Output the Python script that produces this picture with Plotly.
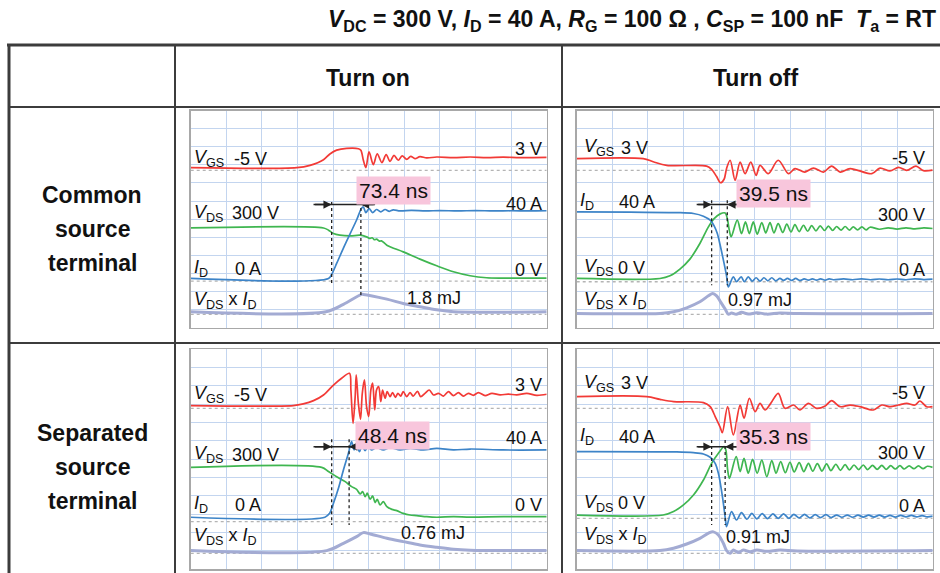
import plotly.graph_objects as go

W, H = 940, 573

# ------------------------------------------------------------------
# DATA  (time in scope divisions 0..10, signal level in divisions 0..12)
# ------------------------------------------------------------------
TITLE = ("<b><i>V</i><sub>DC</sub> = 300 V, <i>I</i><sub>D</sub> = 40 A, "
         "<i>R</i><sub>G</sub> = 100 Ω , <i>C</i><sub>SP</sub> = 100 nF\u00a0\u00a0"
         "<i>T</i><sub>a</sub> = RT</b>")
COL_HEADERS = ["Turn on", "Turn off"]
ROW_HEADERS = [["Common", "source", "terminal"], ["Separated", "source", "terminal"]]

# --- Common source terminal, turn on ---
A_VGS = [(0, 8.84), (2.98, 8.84), (3.35, 8.97), (3.73, 9.28), (3.91, 9.60), (4.10, 9.81),
         (4.38, 9.91), (4.71, 9.89), (4.78, 9.80), (4.85, 9.25), (4.92, 8.84), (5.01, 9.71),
         (5.13, 9.01), (5.24, 9.61), (5.37, 9.12), (5.49, 9.56), (5.60, 9.19), (5.71, 9.52),
         (5.83, 9.25), (5.94, 9.49), (6.07, 9.30), (6.18, 9.47), (6.30, 9.34), (6.44, 9.45),
         (6.63, 9.38), (6.91, 9.43), (7.38, 9.40), (7.85, 9.43), (8.31, 9.40), (8.78, 9.42),
         (9.25, 9.40), (10, 9.41)]
A_ID = [(0, 2.72), (3.87, 2.72), (3.96, 2.95), (4.10, 3.55), (4.29, 4.40), (4.48, 5.20),
        (4.66, 5.95), (4.80, 6.60), (4.85, 6.67), (4.92, 6.36), (5.01, 6.58), (5.11, 6.36),
        (5.22, 6.53), (5.34, 6.40), (5.46, 6.53), (5.58, 6.43), (5.69, 6.51), (5.88, 6.45),
        (6.2, 6.48), (6.6, 6.45), (7.0, 6.47), (7.5, 6.45), (8.0, 6.47), (8.5, 6.45),
        (9.0, 6.46), (9.5, 6.45), (10, 6.46)]
A_VDS = [(0, 5.51), (3.73, 5.51), (3.87, 5.39), (4.01, 5.20), (4.19, 5.11), (4.48, 5.07),
         (4.76, 5.11), (4.94, 5.02), (5.04, 4.93), (5.10, 4.97), (5.16, 4.86), (5.22, 4.89),
         (5.30, 4.78), (5.36, 4.80), (5.51, 4.56), (5.97, 4.19), (6.44, 3.79), (6.91, 3.42),
         (7.38, 3.09), (7.85, 2.87), (8.31, 2.76), (8.78, 2.74), (10, 2.74)]
A_PW = [(0, 0.88), (3.80, 0.88), (4.29, 1.29), (4.80, 1.84), (4.85, 1.84), (5.51, 1.58),
        (5.97, 1.34), (6.44, 1.16), (6.91, 0.99), (7.38, 0.88), (10, 0.88)]
A_REFS = [8.69, 2.57, 0.74]
A_MARKS = [(3.96, 6.95, 2.35), (4.78, 6.95, 1.80)]
A_ARROW = (6.80, 3.45, 5.18)

# --- Common source terminal, turn off ---
B_VGS = [(0, 9.34), (1.87, 9.34), (2.15, 9.17), (2.53, 8.97), (3.65, 8.93), (3.79, 8.75),
         (3.93, 8.35), (4.04, 8.01), (4.14, 8.20), (4.21, 8.80), (4.31, 9.25), (4.45, 8.14),
         (4.59, 9.15), (4.73, 8.51), (4.89, 9.15), (5.04, 8.42), (5.15, 8.97), (5.38, 8.51),
         (5.66, 9.25), (5.95, 8.51), (6.13, 8.79), (6.41, 8.60), (6.65, 8.82), (6.93, 8.60),
         (7.16, 8.93), (7.40, 8.60), (7.68, 8.79), (8.29, 8.51), (8.52, 8.82), (8.80, 8.66),
         (9.04, 8.86), (9.27, 8.69), (9.53, 8.93), (9.74, 8.68), (10, 8.71)]
B_ID = [(0, 6.40), (1.5, 6.38), (2.81, 6.36), (3.28, 6.31), (3.56, 6.16), (3.75, 5.94),
        (3.86, 5.63), (3.95, 5.20), (4.04, 4.47), (4.14, 3.55), (4.21, 2.85), (4.26, 2.26),
        (4.40, 2.81), (4.49, 2.54), (4.62, 2.81), (4.71, 2.54), (4.82, 2.81), (4.93, 2.57),
        (5.04, 2.76), (5.15, 2.57), (5.26, 2.76), (5.37, 2.59), (5.48, 2.76), (5.59, 2.59),
        (5.71, 2.72), (5.81, 2.61), (5.92, 2.72), (6.04, 2.61), (6.15, 2.72), (6.27, 2.61),
        (6.39, 2.70), (6.51, 2.63), (6.62, 2.70), (6.74, 2.63), (6.85, 2.70), (6.98, 2.63),
        (7.09, 2.70), (7.21, 2.65), (7.5, 2.70), (7.75, 2.65), (8.0, 2.70), (8.25, 2.65),
        (8.5, 2.69), (8.75, 2.65), (9.0, 2.69), (9.25, 2.65), (9.5, 2.70), (9.75, 2.66),
        (10, 2.68)]
B_VDS = [(0, 2.72), (2.34, 2.72), (2.62, 2.87), (2.90, 3.24), (3.18, 3.79), (3.46, 4.65),
         (3.70, 5.57), (3.86, 6.03), (4.03, 6.29), (4.17, 6.34), (4.23, 6.03), (4.29, 5.35),
         (4.34, 5.02), (4.51, 5.94), (4.63, 5.20), (4.74, 5.85), (4.85, 5.20), (4.96, 5.85),
         (5.07, 5.17), (5.20, 5.81), (5.31, 5.24), (5.43, 5.81), (5.54, 5.24), (5.66, 5.75),
         (5.79, 5.26), (5.90, 5.72), (6.02, 5.29), (6.13, 5.70), (6.25, 5.31), (6.37, 5.66),
         (6.49, 5.33), (6.60, 5.64), (6.72, 5.35), (6.84, 5.63), (6.96, 5.37), (7.07, 5.61),
         (7.19, 5.37), (7.30, 5.59), (7.43, 5.39), (7.54, 5.59), (7.66, 5.39), (7.77, 5.57),
         (7.89, 5.40), (8.01, 5.57), (8.13, 5.40), (8.24, 5.55), (8.5, 5.44), (8.75, 5.52),
         (9.0, 5.45), (9.25, 5.52), (9.5, 5.46), (9.75, 5.51), (10, 5.48)]
B_PW = [(0, 0.79), (2.34, 0.79), (2.72, 0.88), (3.09, 1.10), (3.46, 1.43), (3.70, 1.76),
        (3.82, 1.89), (3.93, 1.76), (4.04, 1.43), (4.17, 1.03), (4.26, 0.74), (4.35, 0.81),
        (4.48, 0.74), (4.63, 0.85), (4.82, 0.75), (5.06, 0.83), (5.34, 0.75), (5.71, 0.81),
        (6.2, 0.78), (10, 0.79)]
B_REFS = [8.69, 2.54, 0.74]
B_MARKS = [(3.79, 7.04, 2.35), (4.23, 7.04, 2.35)]
B_ARROW = (6.80, 3.37, 4.66)

# --- Separated source terminal, turn on ---
C_VGS = [(0, 8.93), (2.88, 8.93), (3.16, 9.02), (3.45, 9.20), (3.73, 9.51), (4.01, 10.05),
         (4.24, 10.42), (4.46, 10.69), (4.50, 9.78), (4.56, 7.96), (4.62, 9.42), (4.65, 10.60),
         (4.71, 9.05), (4.77, 8.18), (4.82, 9.60), (4.88, 10.33), (4.94, 8.87), (5.00, 8.33),
         (5.06, 9.78), (5.11, 10.15), (5.17, 8.69), (5.22, 9.78), (5.28, 9.96), (5.34, 9.15),
         (5.39, 9.78), (5.46, 9.33), (5.52, 9.69), (5.60, 9.42), (5.67, 9.64), (5.75, 9.38),
         (5.82, 9.60), (5.90, 9.45), (5.97, 9.69), (6.07, 9.42), (6.16, 9.64), (6.25, 9.45),
         (6.37, 9.71), (6.46, 9.42), (6.58, 9.60), (6.70, 9.78), (6.82, 9.51), (6.96, 9.60),
         (7.10, 9.45), (7.24, 9.69), (7.38, 9.47), (7.52, 9.64), (7.66, 9.45), (7.80, 9.60),
         (7.94, 9.49), (8.08, 9.64), (8.27, 9.47), (8.46, 9.60), (8.69, 9.51), (8.92, 9.56),
         (9.16, 9.51), (9.44, 9.60), (9.72, 9.49), (10, 9.55)]
C_ID = [(0, 2.84), (3.77, 2.84), (3.90, 3.05), (4.01, 3.60), (4.15, 4.42), (4.29, 5.42),
        (4.43, 6.33), (4.52, 6.96), (4.59, 6.51), (4.66, 6.78), (4.74, 6.42), (4.81, 6.73),
        (4.90, 6.47), (4.98, 6.69), (5.08, 6.51), (5.22, 6.65), (5.41, 6.51), (5.60, 6.64),
        (5.88, 6.51), (6.16, 6.60), (6.54, 6.51), (6.91, 6.60), (7.38, 6.51), (7.85, 6.56),
        (8.78, 6.51), (10, 6.51)]
C_VDS = [(0, 5.56), (3.68, 5.56), (3.87, 5.33), (4.10, 5.05), (4.34, 4.78), (4.52, 4.51),
         (4.66, 4.36), (4.76, 4.11), (4.83, 4.24), (4.90, 3.96), (4.96, 4.15), (5.04, 3.82),
         (5.11, 4.00), (5.18, 3.64), (5.24, 3.82), (5.32, 3.51), (5.41, 3.69), (5.51, 3.42),
         (5.65, 3.27), (5.79, 3.20), (5.97, 3.05), (6.16, 2.96), (6.35, 2.93), (6.63, 2.87),
         (6.91, 2.84), (7.38, 2.87), (7.85, 2.85), (8.78, 2.87), (10, 2.87)]
C_PW = [(0, 1.02), (3.82, 1.02), (4.29, 1.42), (4.66, 1.78), (4.85, 2.00), (5.04, 1.93),
        (5.51, 1.69), (5.97, 1.51), (6.44, 1.33), (6.91, 1.20), (7.38, 1.09), (7.85, 1.04),
        (10, 1.02)]
C_REFS = [8.78, 2.60, 0.87]
C_MARKS = [(3.96, 7.09, 2.42), (4.45, 7.09, 2.42)]
C_ARROW = (6.69, 3.45, 4.57)

# --- Separated source terminal, turn off ---
D_VGS = [(0, 9.42), (1.97, 9.42), (2.34, 9.27), (2.72, 9.15), (3.56, 9.09), (3.75, 8.87),
         (3.89, 8.33), (4.03, 7.75), (4.09, 7.45), (4.24, 8.87), (4.40, 7.33), (4.59, 8.96),
         (4.70, 8.24), (4.85, 9.33), (5.01, 8.60), (5.15, 9.05), (5.29, 8.69), (5.45, 9.05),
         (5.66, 9.60), (5.85, 8.78), (6.09, 8.96), (6.27, 8.69), (6.51, 9.05), (6.74, 8.78),
         (6.98, 8.91), (7.16, 9.20), (7.40, 8.87), (7.68, 8.96), (7.96, 8.87), (8.33, 8.69),
         (8.57, 8.96), (8.80, 8.87), (9.04, 8.96), (9.27, 9.05), (9.50, 8.96), (9.64, 9.18),
         (9.83, 8.87), (10, 8.87)]
D_ID = [(0, 6.42), (2.81, 6.40), (3.28, 6.36), (3.56, 6.29), (3.75, 6.11), (3.89, 5.78),
        (3.98, 5.24), (4.05, 4.51), (4.12, 3.60), (4.18, 2.69), (4.21, 2.33), (4.35, 3.15),
        (4.49, 2.69), (4.63, 3.09), (4.78, 2.73), (4.92, 3.05), (5.06, 2.75), (5.21, 3.04),
        (5.36, 2.76), (5.51, 3.02), (5.66, 2.78), (5.81, 3.02), (5.96, 2.78), (6.10, 3.00),
        (6.25, 2.80), (6.40, 3.00), (6.55, 2.80), (6.70, 2.98), (6.85, 2.82), (7.00, 2.98),
        (7.15, 2.82), (7.30, 2.96), (7.45, 2.84), (7.60, 2.96), (7.75, 2.84), (7.90, 2.95),
        (8.05, 2.85), (8.20, 2.95), (8.35, 2.85), (8.50, 2.95), (8.65, 2.85), (8.80, 2.94),
        (8.95, 2.85), (9.10, 2.94), (9.25, 2.86), (9.40, 2.94), (9.55, 2.86), (9.70, 2.93),
        (9.85, 2.86), (10, 2.90)]
D_VDS = [(0, 2.96), (2.43, 2.96), (2.72, 3.15), (3.00, 3.51), (3.28, 4.05), (3.56, 4.87),
         (3.79, 5.78), (3.98, 6.33), (4.14, 6.69), (4.19, 6.51), (4.24, 5.42), (4.29, 4.96),
         (4.48, 6.15), (4.59, 5.33), (4.70, 6.05), (4.82, 5.24), (4.94, 6.00), (5.07, 5.24),
         (5.20, 5.96), (5.34, 5.05), (5.48, 5.93), (5.60, 5.24), (5.73, 5.87), (5.86, 5.27),
         (5.99, 5.84), (6.11, 5.31), (6.25, 5.82), (6.38, 5.33), (6.51, 5.78), (6.63, 5.35),
         (6.76, 5.76), (6.89, 5.36), (7.02, 5.75), (7.14, 5.38), (7.28, 5.73), (7.41, 5.40),
         (7.54, 5.71), (7.66, 5.42), (7.79, 5.69), (7.92, 5.44), (8.05, 5.69), (8.17, 5.44),
         (8.31, 5.67), (8.44, 5.45), (8.57, 5.67), (8.69, 5.45), (8.82, 5.65), (8.95, 5.47),
         (9.08, 5.65), (9.20, 5.47), (9.34, 5.64), (9.47, 5.49), (9.60, 5.64), (9.73, 5.49),
         (9.85, 5.62), (10, 5.56)]
D_PW = [(0, 1.02), (2.34, 1.02), (2.72, 1.15), (3.09, 1.38), (3.46, 1.69), (3.73, 2.00),
        (3.84, 2.04), (3.98, 1.87), (4.12, 1.42), (4.21, 1.02), (4.31, 0.87), (4.40, 1.05),
        (4.54, 0.91), (4.68, 1.05), (4.87, 0.95), (5.06, 1.05), (5.34, 0.98), (5.71, 1.05),
        (6.2, 1.00), (10, 1.02)]
D_REFS = [8.78, 2.78, 0.87]
D_MARKS = [(3.79, 7.05, 2.42), (4.17, 7.05, 2.42)]
D_ARROW = (6.69, 3.37, 4.59)

# text labels: (text, x, y, anchor)
VGS, VDS, ID = "<i>V</i><sub>GS</sub>", "<i>V</i><sub>DS</sub>", "<i>I</i><sub>D</sub>"
PWR = "<i>V</i><sub>DS</sub> x <i>I</i><sub>D</sub>"
A_LABELS = [(VGS, 0.03, 9.34, "left"), ("-5 V", 1.15, 9.34, "left"), ("3 V", 9.91, 9.89, "right"),
            (VDS, 0.03, 6.31, "left"), ("300 V", 1.10, 6.31, "left"), ("40 A", 9.91, 6.86, "right"),
            (ID, 0.03, 3.27, "left"), ("0 A", 1.20, 3.27, "left"), ("0 V", 9.91, 3.18, "right"),
            (PWR, 0.03, 1.53, "left"), ("1.8 mJ", 6.84, 1.62, "center")]
B_LABELS = [(VGS, 0.14, 9.93, "left"), ("3 V", 1.18, 9.93, "left"), ("-5 V", 9.83, 9.38, "right"),
            (ID, 0.05, 6.95, "left"), ("40 A", 1.12, 6.95, "left"), ("300 V", 9.83, 6.21, "right"),
            (VDS, 0.14, 3.31, "left"), ("0 V", 1.10, 3.31, "left"), ("0 A", 9.83, 3.18, "right"),
            (PWR, 0.14, 1.53, "left"), ("0.97 mJ", 5.15, 1.53, "center")]
C_LABELS = [(VGS, 0.03, 9.51, "left"), ("-5 V", 1.15, 9.51, "left"), ("3 V", 9.91, 10.05, "right"),
            (VDS, 0.03, 6.24, "left"), ("300 V", 1.10, 6.24, "left"), ("40 A", 9.91, 7.15, "right"),
            (ID, 0.03, 3.51, "left"), ("0 A", 1.20, 3.51, "left"), ("0 V", 9.91, 3.51, "right"),
            (PWR, 0.03, 1.78, "left"), ("0.76 mJ", 6.82, 1.96, "center")]
D_LABELS = [(VGS, 0.14, 10.15, "left"), ("3 V", 1.18, 10.15, "left"), ("-5 V", 9.83, 9.60, "right"),
            (ID, 0.05, 7.24, "left"), ("40 A", 1.12, 7.24, "left"), ("300 V", 9.83, 6.36, "right"),
            (VDS, 0.14, 3.60, "left"), ("0 V", 1.10, 3.60, "left"), ("0 A", 9.83, 3.45, "right"),
            (PWR, 0.14, 1.87, "left"), ("0.91 mJ", 5.10, 1.78, "center")]
NS_LABELS = [("73.4 ns", 5.71, 7.59), ("39.5 ns", 5.52, 7.41), ("48.4 ns", 5.67, 7.29), ("35.3 ns", 5.52, 7.27)]

# ------------------------------------------------------------------
# LAYOUT / STYLE
# ------------------------------------------------------------------
RED, BLUE, GREEN, PURP = "#f23a36", "#3d84c8", "#3fb650", "#a3abd3"
GRID = "#c3d5ef"
LFONT = dict(family="Liberation Sans, Arial, sans-serif", size=18, color="#111111")
# scope screen boxes in page pixels (left, top, right, bottom)
BOXES = [(190.7, 110.5, 546.7, 327.7), (576.7, 110.5, 932.7, 327.7),
         (190.7, 349.3, 546.7, 569.3), (576.7, 349.3, 932.7, 569.3)]

panels = [
    (A_VGS, A_ID, A_VDS, A_PW, A_REFS, A_MARKS, A_ARROW, A_LABELS),
    (B_VGS, B_ID, B_VDS, B_PW, B_REFS, B_MARKS, B_ARROW, B_LABELS),
    (C_VGS, C_ID, C_VDS, C_PW, C_REFS, C_MARKS, C_ARROW, C_LABELS),
    (D_VGS, D_ID, D_VDS, D_PW, D_REFS, D_MARKS, D_ARROW, D_LABELS),
]

fig = go.Figure()
annotations = []
layout_axes = {}

def unzip(pairs):
    return [p[0] for p in pairs], [p[1] for p in pairs]

for i, (vgs, idd, vds, pw, refs, marks, arrow, labels) in enumerate(panels):
    n = "" if i == 0 else str(i + 1)
    xa, ya = "x" + n, "y" + n
    l, t, r, b = BOXES[i]
    layout_axes["xaxis" + n] = dict(domain=[l / W, r / W], range=[0, 10], anchor=ya, dtick=1,
                                    showgrid=True, gridcolor=GRID, gridwidth=1, zeroline=False,
                                    showticklabels=False, ticks="", showline=True, mirror=True,
                                    linecolor="#a8a8a8", linewidth=1.5, fixedrange=True)
    layout_axes["yaxis" + n] = dict(domain=[1 - b / H, 1 - t / H], range=[0, 12], anchor=xa, dtick=1,
                                    showgrid=True, gridcolor=GRID, gridwidth=1, zeroline=False,
                                    showticklabels=False, ticks="", showline=True, mirror=True,
                                    linecolor="#a8a8a8", linewidth=1.5, fixedrange=True)
    # reference baselines
    for lev in refs:
        fig.add_trace(go.Scatter(x=[0, 10], y=[lev, lev], xaxis=xa, yaxis=ya, mode="lines",
                                 line=dict(color="#b4b4b4", width=1.3, dash="dot"), hoverinfo="skip"))
    # waveforms
    for data, col, wid in [(pw, PURP, 3.0), (vds, GREEN, 1.7), (idd, BLUE, 1.7), (vgs, RED, 1.7)]:
        xs, ys = unzip(data)
        fig.add_trace(go.Scatter(x=xs, y=ys, xaxis=xa, yaxis=ya, mode="lines",
                                 line=dict(color=col, width=wid, shape="spline", smoothing=0.9),
                                 hoverinfo="skip"))
    # cursor markers
    for (tm, y0, y1) in marks:
        fig.add_trace(go.Scatter(x=[tm, tm], y=[y0, y1], xaxis=xa, yaxis=ya, mode="lines",
                                 line=dict(color="#222222", width=1.3, dash="dot"), hoverinfo="skip"))
    ay_, ax0, ax1 = arrow
    fig.add_trace(go.Scatter(x=[ax0, ax1], y=[ay_, ay_], xaxis=xa, yaxis=ya, mode="lines",
                             line=dict(color="#222222", width=1.5), hoverinfo="skip"))
    t1, t2 = marks[0][0], marks[1][0]
    for head, tail in [(t1, ax0), (t2, ax1)]:
        annotations.append(dict(x=head, y=ay_, ax=tail, ay=ay_, xref=xa, yref=ya, axref=xa, ayref=ya,
                                showarrow=True, arrowhead=2, arrowsize=1.1, arrowwidth=1.5,
                                arrowcolor="#222222", text=""))
    # labels
    for txt, lx, ly, anc in labels:
        annotations.append(dict(x=lx, y=ly, xref=xa, yref=ya, text=txt, showarrow=False,
                                xanchor=anc, yanchor="middle", font=LFONT))
    ns_txt, nx, ny = NS_LABELS[i]
    annotations.append(dict(x=nx, y=ny, xref=xa, yref=ya, text=ns_txt, showarrow=False,
                            xanchor="center", yanchor="middle", bgcolor="#f8c6dc", borderpad=2,
                            font=dict(family="Liberation Sans, Arial, sans-serif", size=21, color="#111111")))

# table text
BFONT = dict(family="Liberation Sans, Arial, sans-serif", color="#111111")
annotations.append(dict(x=938 / W, y=1 - 20 / H, xref="paper", yref="paper", text=TITLE, showarrow=False,
                        xanchor="right", yanchor="middle", font=dict(BFONT, size=23)))
for txt, cx in zip(COL_HEADERS, [368, 755]):
    annotations.append(dict(x=cx / W, y=1 - 78 / H, xref="paper", yref="paper", text="<b>" + txt + "</b>",
                            showarrow=False, xanchor="center", yanchor="middle", font=dict(BFONT, size=23)))
for lines, cy in zip(ROW_HEADERS, [229, 467]):
    for k, word in enumerate(lines):
        annotations.append(dict(x=92 / W, y=1 - (cy + (k - 1) * 34) / H, xref="paper", yref="paper",
                                text="<b>" + word + "</b>", showarrow=False, xanchor="center",
                                yanchor="middle", font=dict(BFONT, size=23)))

# table rules (page pixels)
RULES = [((7, 45), (940, 45), 3), ((9, 107), (940, 107), 2), ((9, 343), (940, 343), 2),
         ((9, 45), (9, 573), 3), ((175, 45), (175, 573), 2), ((562, 45), (562, 573), 2)]
shapes = []
for (x0, y0), (x1, y1), w in RULES:
    shapes.append(dict(type="line", xref="paper", yref="paper", x0=x0 / W, x1=x1 / W,
                       y0=1 - y0 / H, y1=1 - y1 / H, line=dict(color="#3c3c3c", width=w)))

fig.update_layout(width=W, height=H, margin=dict(l=0, r=0, t=0, b=0), paper_bgcolor="white",
                  plot_bgcolor="white", showlegend=False, annotations=annotations, shapes=shapes,
                  **layout_axes)
fig.write_html("out.html", config={"displayModeBar": False, "staticPlot": True},
               post_script="document.body.style.margin='0px';document.body.style.overflow='hidden';")
